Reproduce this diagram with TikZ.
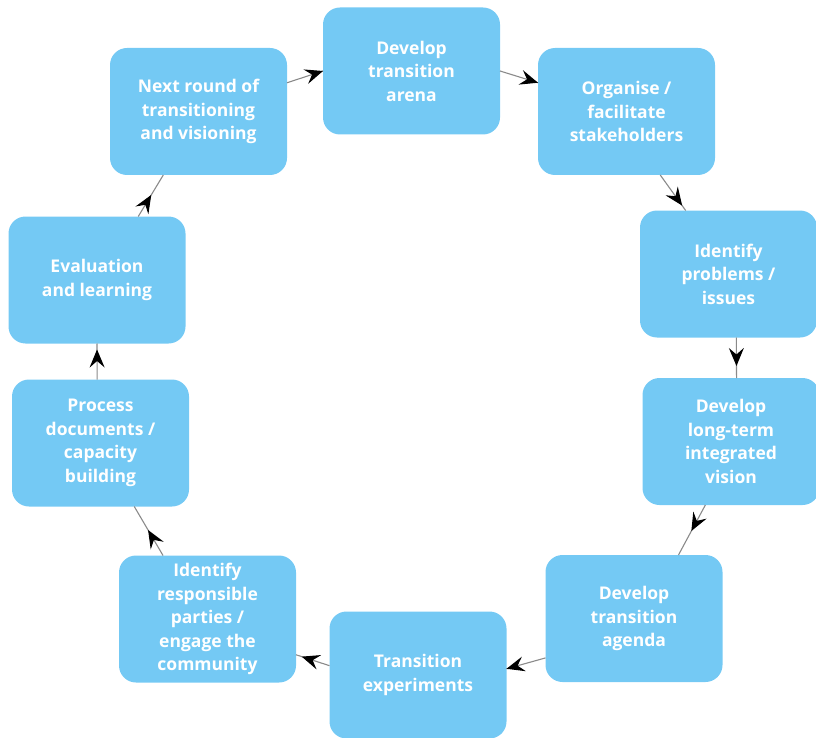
\documentclass[tikz,border=0pt]{standalone}
\usepackage{fontspec}
\setmainfont{Open Sans}
\usetikzlibrary{arrows.meta,decorations.markings}
\definecolor{boxblue}{HTML}{74C9F4}
\definecolor{linegray}{HTML}{8A8A8A}
\tikzset{
  stepbox/.style={draw=none,fill=boxblue,rounded corners=17pt,minimum width=177pt,minimum height=127pt,
    text=white,font=\fontsize{17.5}{23.5}\selectfont\bfseries,align=center,inner sep=0pt,outer sep=0pt},
  flow/.style={draw=linegray,line width=1.1pt,postaction={decorate},
    decoration={markings,mark=at position #1 with {\arrow{Stealth[length=18pt,width=15pt,inset=6.5pt,black]}}}},
}
\begin{document}
\begin{tikzpicture}[x=1pt,y=-1pt]
\useasboundingbox (0,0) rectangle (816,738);
\node[stepbox] (n1) at (411.5,71) {Develop\\transition\\arena};
\node[stepbox] (n2) at (626.5,111.5) {Organise /\\facilitate\\stakeholders};
\node[stepbox] (n3) at (728.5,274) {Identify\\problems /\\issues};
\node[stepbox] (n4) at (731,441.5) {Develop\\long-term\\integrated\\vision};
\node[stepbox] (n5) at (634,618.5) {Develop\\transition\\agenda};
\node[stepbox] (n6) at (418,675) {Transition\\experiments};
\node[stepbox] (n7) at (207.5,619) {Identify\\responsible\\parties /\\engage the\\community};
\node[stepbox] (n8) at (100.5,443) {Process\\documents /\\capacity\\building};
\node[stepbox] (n9) at (97,280) {Evaluation\\and learning};
\node[stepbox] (n10) at (198.5,111.5) {Next round of\\transitioning\\and visioning};

\draw[flow=1] (n10.18.4) -- (n1.180);
\draw[flow=1] (n1.0) -- (n2.162.7);
\draw[flow=-6pt] (n2.-62.2) -- (n3.124);
\draw[flow=-12pt] (n3.-83.2) -- (n4.85.5);
\draw[flow=0.52] (n4.-112.3) -- (n5.55.9);
\draw[flow=1] (n5.-156.4) -- (n6.4.5);
\draw[flow=-6pt] (n6.174.2) -- (n7.-22.7);
\draw[flow=0.52] (n7.125.2) -- (n8.-62.7);
\draw[flow=-6pt] (n8.93.2) -- (n9.270);
\draw[flow=0.52] (n9.57.6) -- (n10.-119.2);
\end{tikzpicture}
\end{document}
